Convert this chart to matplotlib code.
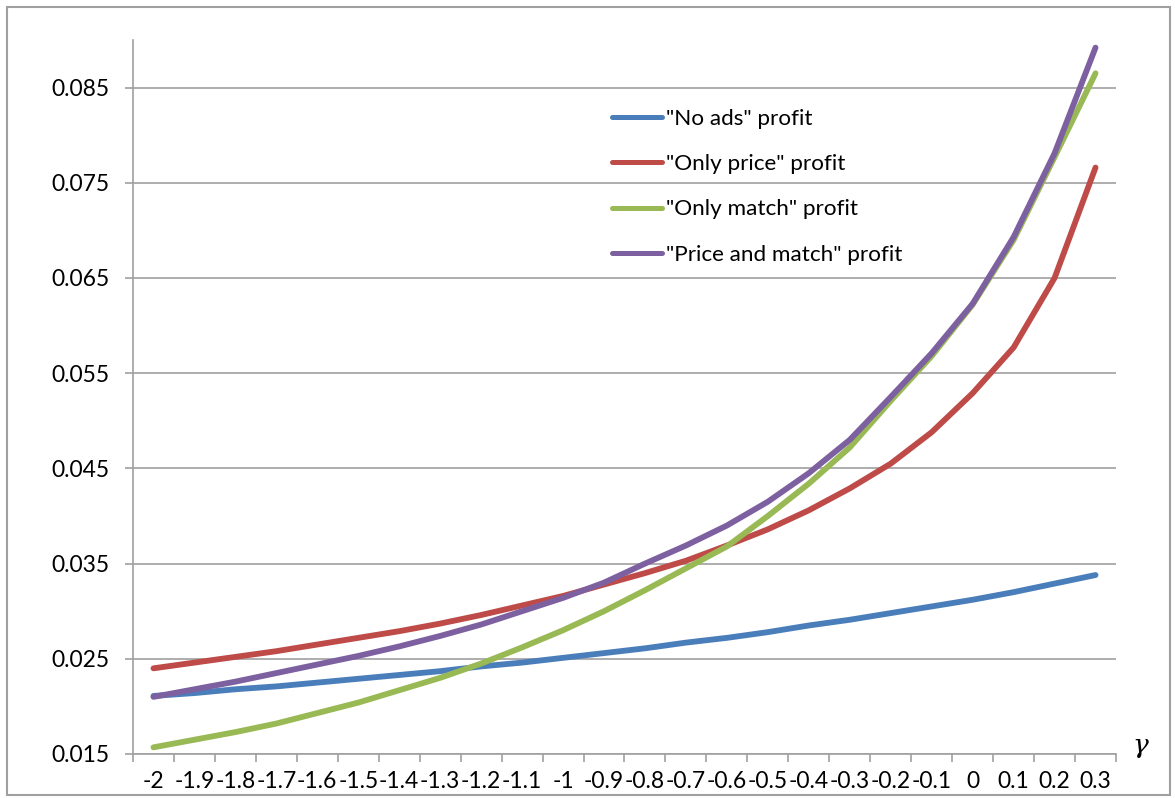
import matplotlib.pyplot as plt
from matplotlib.patches import Rectangle

gamma = ['-2', '-1.9', '-1.8', '-1.7', '-1.6', '-1.5', '-1.4', '-1.3', '-1.2', '-1.1',
         '-1', '-0.9', '-0.8', '-0.7', '-0.6', '-0.5', '-0.4', '-0.3', '-0.2', '-0.1',
         '0', '0.1', '0.2', '0.3']

no_ads = [0.0211, 0.0214, 0.0218, 0.0221, 0.0225, 0.0229, 0.0233, 0.0237, 0.0242, 0.0246,
          0.0251, 0.0256, 0.0261, 0.0267, 0.0272, 0.0278, 0.0285, 0.0291, 0.0298, 0.0305,
          0.0312, 0.0320, 0.0329, 0.0338]
only_price = [0.0240, 0.0246, 0.0252, 0.0258, 0.0265, 0.0272, 0.0279, 0.0287, 0.0296, 0.0306,
              0.0316, 0.0328, 0.0340, 0.0353, 0.0369, 0.0386, 0.0406, 0.0429, 0.0455, 0.0488,
              0.0529, 0.0577, 0.0650, 0.0766]
only_match = [0.0157, 0.0165, 0.0173, 0.0182, 0.0193, 0.0204, 0.0217, 0.0230, 0.0245, 0.0262,
              0.0280, 0.0300, 0.0322, 0.0345, 0.0368, 0.0400, 0.0434, 0.0472, 0.0521, 0.0568,
              0.0622, 0.0690, 0.0777, 0.0865]
price_match = [0.0210, 0.0218, 0.0226, 0.0235, 0.0244, 0.0253, 0.0263, 0.0274, 0.0286, 0.0300,
               0.0314, 0.0330, 0.0350, 0.0369, 0.0390, 0.0415, 0.0445, 0.0480, 0.0525, 0.0571,
               0.0623, 0.0693, 0.0781, 0.0892]

series = [
    ('"No ads" profit', no_ads, '#4A7EBB'),
    ('"Only price" profit', only_price, '#BE4B48'),
    ('"Only match" profit', only_match, '#98B954'),
    ('"Price and match" profit', price_match, '#7D60A0'),
]

plt.rcParams['font.family'] = ['Lato', 'DejaVu Sans']
grey = '#A0A0A0'

fig = plt.figure(figsize=(11.75, 7.98), dpi=100)
ax = fig.add_axes([133 / 1175, 1 - 754 / 798, (1116 - 133) / 1175, (754 - 40) / 798])

x = list(range(len(gamma)))
for label, values, color in series:
    ax.plot(x, values, color=color, lw=4.2, label=label, solid_capstyle='round')

ax.set_xlim(-0.5, len(gamma) - 0.5)
ax.set_ylim(0.015, 0.09)
yt = [0.015, 0.025, 0.035, 0.045, 0.055, 0.065, 0.075, 0.085]
ax.set_yticks(yt)
ax.set_yticklabels(['%.3f' % v for v in yt])
ax.grid(axis='y', color=grey, lw=1.2)
ax.set_axisbelow(True)

ax.set_xticks(x)
ax.set_xticklabels(gamma)
ax.set_xticks([i - 0.5 for i in range(len(gamma) + 1)], minor=True)
ax.tick_params(axis='x', which='major', length=0, pad=12, labelsize=16.5)
ax.tick_params(axis='x', which='minor', length=5.5, color=grey, width=1.2)
ax.tick_params(axis='y', length=5.8, color=grey, width=1.2, pad=11, labelsize=16.5)

for s in ['top', 'right']:
    ax.spines[s].set_visible(False)
for s in ['left', 'bottom']:
    ax.spines[s].set_color(grey)
    ax.spines[s].set_linewidth(1.2)

leg = ax.legend(loc='upper left', bbox_to_anchor=(612 / 1175, 1 - 109 / 798),
                bbox_transform=fig.transFigure, frameon=False, fontsize=16.2,
                handlelength=2.2, handletextpad=0.2, labelspacing=1.12,
                borderpad=0, borderaxespad=0)
for h in leg.get_lines():
    h.set_linewidth(3.6)

fig.text(1140 / 1175, 1 - 745 / 798, 'γ', fontsize=19, style='italic',
         family=['DejaVu Serif'], ha='center', va='center')

fig.patches.append(Rectangle((7 / 1175, 3 / 798), 1163 / 1175, 788 / 798,
                             transform=fig.transFigure, fill=False,
                             edgecolor=grey, lw=1.5))

fig.savefig('out.png', dpi=100)
